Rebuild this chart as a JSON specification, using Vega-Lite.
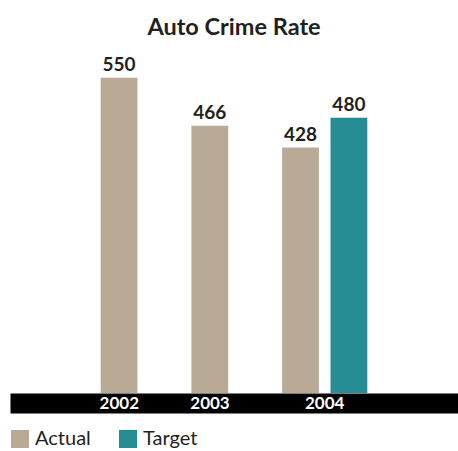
{
  "$schema": "https://vega.github.io/schema/vega-lite/v6.json",
  "width": 448,
  "height": 344,
  "autosize": "none",
  "padding": {"left": 10, "top": 49, "right": 0, "bottom": 58},
  "background": "white",
  "title": {
    "text": "Auto Crime Rate",
    "font": "Lato",
    "fontSize": 23.5,
    "fontWeight": "bold",
    "color": "#231f20",
    "anchor": "middle",
    "offset": 10
  },
  "data": {
    "values": [
      {"year": "2002", "series": "Actual", "value": 550},
      {"year": "2003", "series": "Actual", "value": 466},
      {"year": "2004", "series": "Actual", "value": 428},
      {"year": "2004", "series": "Target", "value": 480}
    ]
  },
  "encoding": {
    "xOffset": {
      "field": "series",
      "type": "nominal",
      "scale": {"domain": ["Actual", "Target"], "paddingInner": 0.24, "paddingOuter": 0}
    },
    "y": {
      "field": "value",
      "type": "quantitative",
      "scale": {"domain": [0, 600]},
      "axis": null
    }
  },
  "layer": [
    {
      "mark": {"type": "bar"},
      "encoding": {
        "x": {
          "field": "year",
          "type": "nominal",
          "scale": {"paddingInner": 0.061, "paddingOuter": 1.02},
          "axis": {
            "orient": "bottom",
            "title": null,
            "labels": false,
            "ticks": false,
            "tickSize": 0,
            "grid": false,
            "domainColor": "#000000",
            "domainWidth": 20,
            "offset": 10,
            "zindex": 1
          }
        },
        "color": {
          "field": "series",
          "type": "nominal",
          "scale": {"domain": ["Actual", "Target"], "range": ["#b9aa96", "#268c94"]},
          "legend": {
            "title": null,
            "orient": "none",
            "legendX": 0,
            "legendY": 380,
            "direction": "horizontal",
            "symbolType": "square",
            "symbolSize": 324,
            "symbolStrokeWidth": 0,
            "symbolOpacity": 1,
            "labelFont": "Lato",
            "labelFontSize": 20,
            "labelColor": "#231f20",
            "labelOffset": 5,
            "columnPadding": 27
          }
        }
      }
    },
    {
      "mark": {
        "type": "text",
        "font": "Lato",
        "fontSize": 19,
        "fontWeight": "bold",
        "baseline": "alphabetic",
        "dy": -7,
        "color": "#231f20"
      },
      "encoding": {
        "x": {
          "field": "year",
          "type": "nominal",
          "axis": {
            "orient": "bottom",
            "title": null,
            "labelAngle": 0,
            "ticks": false,
            "tickSize": 0,
            "grid": false,
            "domain": false,
            "offset": 10,
            "labelColor": "#ffffff",
            "labelFont": "Lato",
            "labelFontSize": 17,
            "labelFontWeight": "bold",
            "labelBaseline": "middle",
            "labelPadding": 0,
            "labelOffset": {"expr": "datum.value == '2004' ? 0 : -24"},
            "zindex": 2
          }
        },
        "text": {"field": "value", "type": "quantitative"}
      }
    }
  ],
  "resolve": {"axis": {"x": "independent"}},
  "config": {
    "view": {"stroke": null}
  }
}
